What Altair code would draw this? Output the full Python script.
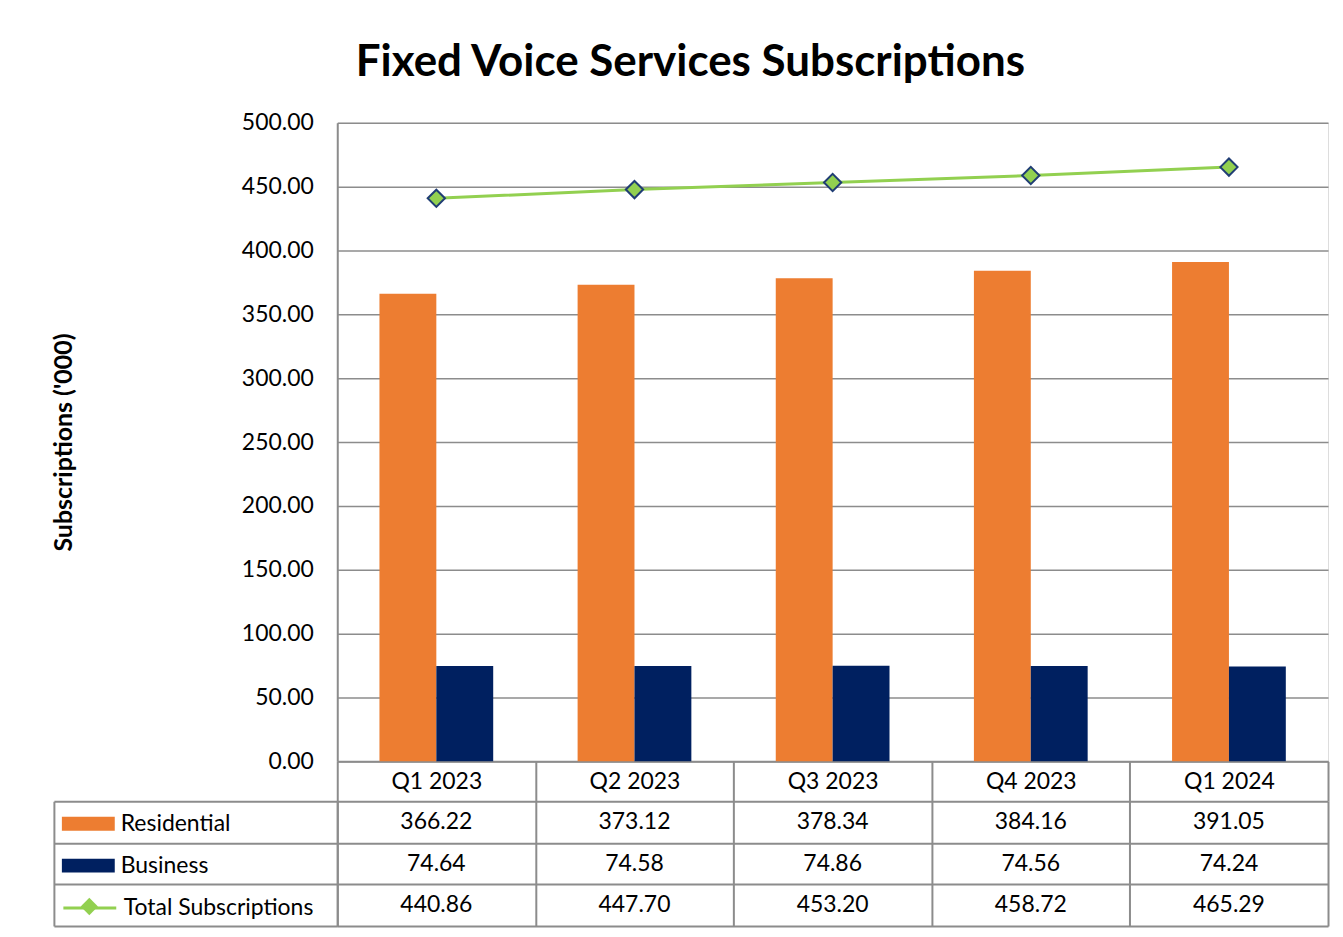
import altair as alt
import pandas as pd

# ---- data ----
quarters = ["Q1 2023", "Q2 2023", "Q3 2023", "Q4 2023", "Q1 2024"]
residential = [366.22, 373.12, 378.34, 384.16, 391.05]
business = [74.64, 74.58, 74.86, 74.56, 74.24]
total = [440.86, 447.70, 453.20, 458.72, 465.29]
bar_series = ["Residential", "Business"]
line_series = "Total Subscriptions"
table_rows = ["Residential", "Business", "Total Subscriptions"]
y_ticks = [0, 50, 100, 150, 200, 250, 300, 350, 400, 450, 500]

# ---- styling ----
ORANGE = "#ED7D31"
NAVY = "#002060"
GREEN = "#92D050"
EDGE = "#203D74"
GRID = "#8C8C8C"
FONT = "Lato"
FS = 23

bars_df = pd.DataFrame({
    "quarter": quarters * 2,
    "series": [bar_series[0]] * len(quarters) + [bar_series[1]] * len(quarters),
    "value": residential + business,
})
total_df = pd.DataFrame({
    "quarter": quarters,
    "series": [line_series] * len(quarters),
    "marker": ["Total"] * len(quarters),
    "value": total,
})
table_df = pd.DataFrame({
    "quarter": quarters * 3,
    "series": [r for r in table_rows for _ in quarters],
    "value": residential + business + total,
})

PLOT_W, PLOT_H = 993, 640
HEADER_H = 40
TABLE_H = 125
LEG_X = -276
LEG_Y = 676

x_main = alt.X(
    "quarter:N", sort=quarters,
    scale=alt.Scale(paddingInner=0, paddingOuter=0),
    axis=alt.Axis(
        title=None, labelAngle=0, labelFont=FONT, labelFontSize=FS, labelColor="black",
        labelBaseline="middle", labelPadding=-20,
        domainColor=GRID, domainWidth=2,
        ticks=True, tickSize=HEADER_H, tickColor=GRID, tickWidth=2, tickBand="extent",
        grid=False,
    ),
)
y_main = alt.Y(
    "value:Q",
    scale=alt.Scale(domain=[0, 500], nice=False),
    axis=alt.Axis(
        values=y_ticks, format=".2f", grid=True, gridColor=GRID, gridWidth=1.5,
        domain=True, domainColor=GRID, domainWidth=2, ticks=False,
        labelPadding=24, labelFont=FONT, labelFontSize=FS, labelColor="black",
        title="Subscriptions ('000)", titleFont=FONT, titleFontSize=25,
        titleFontWeight="bold", titleColor="black", titlePadding=165,
    ),
)

legend_common = dict(
    orient="none", title=None, padding=0,
    labelFont=FONT, labelFontSize=FS, labelColor="black", labelOffset=6, labelLimit=400,
)

bars = alt.Chart(bars_df).mark_bar().encode(
    x=x_main,
    xOffset=alt.XOffset("series:N", sort=bar_series,
                        scale=alt.Scale(paddingInner=0, paddingOuter=0.742)),
    y=y_main,
    color=alt.Color(
        "series:N",
        scale=alt.Scale(domain=bar_series, range=[ORANGE, NAVY]),
        legend=alt.Legend(
            legendX=LEG_X, legendY=LEG_Y, direction="vertical",
            symbolType="M-1,-0.264H1V0.264H-1Z", symbolSize=2809, symbolStrokeWidth=0,
            symbolOpacity=1, rowPadding=3, **legend_common,
        ),
    ),
)

line = alt.Chart(total_df).mark_line(strokeWidth=3).encode(
    x=x_main,
    y=y_main,
    stroke=alt.Stroke(
        "series:N",
        scale=alt.Scale(domain=[line_series], range=[GREEN]),
        legend=alt.Legend(
            legendX=LEG_X, legendY=LEG_Y + 83,
            symbolType="stroke", symbolSize=2809, symbolStrokeWidth=3,
            **legend_common,
        ),
    ),
)

points = alt.Chart(total_df).mark_point(
    filled=True, fill=GREEN, stroke=EDGE, strokeWidth=2, size=300, opacity=1
).encode(
    x=x_main,
    y=y_main,
    shape=alt.Shape(
        "marker:N",
        scale=alt.Scale(domain=["Total"], range=["diamond"]),
        legend=alt.Legend(
            orient="none", legendX=LEG_X + 16, legendY=LEG_Y + 98, title=None, padding=0,
            symbolSize=300, symbolFillColor=GREEN, symbolStrokeColor=EDGE,
            symbolStrokeWidth=2, symbolOpacity=1,
            labelExpr="''", labelFontSize=FS,
        ),
    ),
)

main = alt.layer(bars, line, points).properties(width=PLOT_W, height=PLOT_H)

# ---- data table under the plot ----
x_tab = alt.X(
    "quarter:N", sort=quarters,
    scale=alt.Scale(paddingInner=0, paddingOuter=0),
    axis=alt.Axis(title=None, labels=False, ticks=False, domain=False,
                  grid=True, gridColor=GRID, gridWidth=2, tickBand="extent"),
)
y_scale_tab = alt.Scale(domain=table_rows, paddingInner=0, paddingOuter=0)
y_tab = alt.Y(
    "series:N", sort=table_rows, scale=y_scale_tab,
    axis=alt.Axis(title=None, labels=False, domain=True, domainColor=GRID, domainWidth=2,
                  ticks=True, tickSize=284, tickColor=GRID, tickWidth=2, tickBand="extent",
                  grid=True, gridColor=GRID, gridWidth=2),
)
y_tab_edge = alt.Y(
    "series:N", sort=table_rows, scale=y_scale_tab,
    axis=alt.Axis(orient="left", offset=284, title=None, labels=False, ticks=False,
                  grid=False, domain=True, domainColor=GRID, domainWidth=2),
)

cells = alt.Chart(table_df).mark_text(font=FONT, fontSize=FS, color="black").encode(
    x=x_tab, y=y_tab, text=alt.Text("value:Q", format=".2f"),
)
edge = alt.Chart(table_df).mark_text(opacity=0).encode(x=x_tab, y=y_tab_edge)

table = alt.layer(cells, edge).resolve_axis(y="independent").properties(
    width=PLOT_W, height=TABLE_H
)

chart = alt.vconcat(main, table, spacing=HEADER_H, bounds="flush").resolve_scale(
    color="independent", stroke="independent", shape="independent"
).properties(
    title=alt.Title("Fixed Voice Services Subscriptions", font=FONT, fontSize=44,
                    fontWeight="bold", color="black", anchor="middle", offset=26),
    padding={"left": 43, "top": 32, "right": 5, "bottom": 5},
).configure_view(strokeWidth=0).configure(background="white")

chart.save("out.html", embed_options={"renderer": "svg", "actions": False})
